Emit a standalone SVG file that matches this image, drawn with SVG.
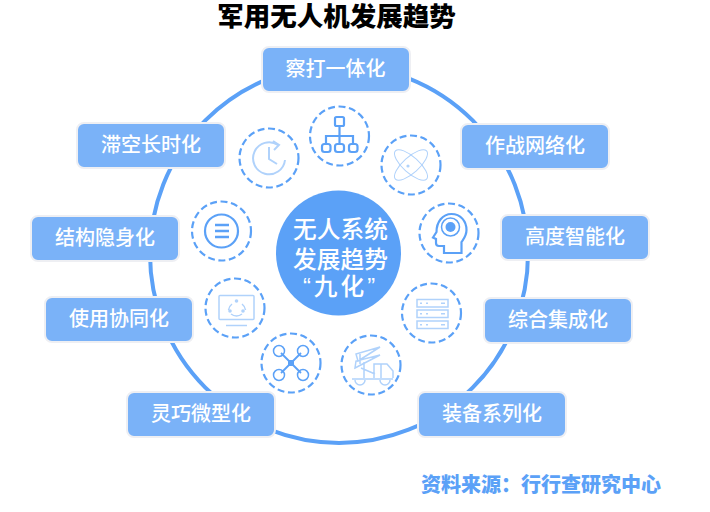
<svg xmlns="http://www.w3.org/2000/svg" width="710" height="512" viewBox="0 0 710 512">
<style>
text{font-family:"Noto Sans CJK SC","Liberation Sans",sans-serif}
.b rect{fill:#7ab2f8;stroke:#eeeff3;stroke-width:2}
.b text{fill:#fff;font-size:20px;font-weight:500;text-anchor:middle}
.d{fill:#fff;stroke:#5ba1f7;stroke-width:2.2;stroke-dasharray:7 3.6}
.s{fill:none;stroke:#5ba1f7;stroke-width:2.2}
.t{fill:none;stroke:#5ba1f7;stroke-width:1.5}
.l{fill:none;stroke:#b0d2fb;stroke-width:1.5}
.a{fill:none;stroke:#b0d2fb;stroke-width:1}
.c text{fill:#fff;font-size:23.700px;font-weight:500;text-anchor:middle;font-family:"Liberation Sans","Noto Sans CJK SC",sans-serif}
.h{font-family:"Liberation Sans","Noto Sans CJK SC",sans-serif}
</style>
<rect width="710" height="512" fill="#fff"/>
<text class="h" x="336.500" y="26" font-size="26.500" font-weight="900" text-anchor="middle" fill="#000">军用无人机发展趋势</text>
<g id="connectors"><circle cx="339" cy="254" r="189" fill="none" stroke="#5ba1f7" stroke-width="4"/></g>
<g id="n1" class="b"><rect x="262" y="47" width="148" height="45" rx="7"/><text x="335.500" y="76">察打一体化</text></g>
<g id="n2" class="b"><rect x="461" y="124" width="148" height="45" rx="7"/><text x="535" y="153">作战网络化</text></g>
<g id="n3" class="b"><rect x="501" y="215" width="148" height="45" rx="7"/><text x="575" y="244">高度智能化</text></g>
<g id="n4" class="b"><rect x="484" y="298" width="148" height="45" rx="7"/><text x="558" y="327">综合集成化</text></g>
<g id="n5" class="b"><rect x="418" y="392" width="148" height="45" rx="7"/><text x="492" y="421">装备系列化</text></g>
<g id="n6" class="b"><rect x="127" y="392" width="148" height="45" rx="7"/><text x="201" y="421">灵巧微型化</text></g>
<g id="n7" class="b"><rect x="45" y="297" width="148" height="45" rx="7"/><text x="119" y="326">使用协同化</text></g>
<g id="n8" class="b"><rect x="31" y="216" width="148" height="45" rx="7"/><text x="105" y="245">结构隐身化</text></g>
<g id="n9" class="b"><rect x="77" y="123" width="148" height="45" rx="7"/><text x="151" y="152">滞空长时化</text></g>
<g id="center" class="c"><circle cx="338.500" cy="253" r="62.500" fill="#5ba1f7"/><text x="340.500" y="238">无人系统</text><text x="340.500" y="268">发展趋势</text><text x="340.500" y="295" letter-spacing="3">“九化”</text></g>
<g id="i1"><circle class="d" cx="339.500" cy="136" r="29.500"/><path class="s" d="M339.500 127v17M326 144v-8h27v8"/><rect class="s" x="335" y="117" width="9" height="9" rx="1.500"/><rect class="s" x="322" y="144" width="8.500" height="8" rx="2.500"/><rect class="s" x="335" y="144" width="9" height="8" rx="2.500"/><rect class="s" x="349" y="144" width="8.500" height="8" rx="2.500"/></g>
<g id="i2"><circle class="d" cx="269" cy="158" r="29.500"/><path class="l" d="M278 145A16 16 0 1 0 285 160M273 141l6 4-5 5M269 147v12l8 5" style="stroke-width:2"/></g>
<g id="i3"><circle class="d" cx="411" cy="165" r="29.500"/><ellipse class="a" cx="411" cy="165" rx="21" ry="8" transform="rotate(42 411 165)"/><ellipse class="a" cx="411" cy="165" rx="21" ry="8" transform="rotate(-42 411 165)"/><circle cx="408" cy="166" r="1.600" fill="#b0d2fb"/></g>
<g id="i4"><circle class="d" cx="449" cy="233" r="29.500"/><path class="s" d="M444 253v-7h-5a3 3 0 0 1-3-3v-4l-3-1.500 3.500-5.500c0-10 6-18 15-18 9 0 15 7 15 16 0 6-3 9-5 12v11z"/><circle class="t" cx="450.500" cy="227" r="9"/><circle cx="450.500" cy="227" r="5" fill="#5ba1f7"/></g>
<g id="i5"><circle class="d" cx="431.500" cy="313" r="29.500"/><g class="l"><rect x="417" y="299.500" width="31" height="7.500"/><rect x="417" y="310" width="31" height="7.500"/><rect x="417" y="321" width="31" height="7.500"/><path stroke-dasharray="2 4" d="M420 303.300h12M420 313.800h12M420 324.800h12"/><path d="M441 303.300h4M441 313.800h4M441 324.800h4"/></g></g>
<g id="i6"><circle class="d" cx="371" cy="365" r="29.500"/><g class="l"><path d="M352 379h41M381 378v-14h-7v14M381 364h6l6 7v7M355 368l25-13-24 6zM358 361l22-14-24 7zM361 368l14 6M364 362v16M360 354v10"/><path d="M355 380a5 5 0 0 0 10 0M380 380a5 5 0 0 0 10 0"/></g></g>
<g id="i7"><circle class="d" cx="291" cy="363" r="29.500"/><path class="t" style="stroke-width:1.800" d="M281 353l20 20M301 353l-20 20"/><circle class="t" cx="279" cy="351" r="5.500"/><circle class="t" cx="303" cy="351" r="5.500"/><circle class="t" cx="279" cy="375" r="5.500"/><circle class="t" cx="303" cy="375" r="5.500"/><rect x="288" y="360" width="6" height="6" fill="#5ba1f7"/></g>
<g id="i8"><circle class="d" cx="235" cy="308" r="29.500"/><g class="l"><rect x="219" y="295.500" width="35" height="24" rx="1"/><path d="M226 325.500h21"/><path d="M232 304a9 9 0 0 0-3.500 6M242 304a9 9 0 0 1 3.500 6M231 314a9 9 0 0 0 11 0"/></g><circle cx="236.500" cy="301" r="1.800" fill="#b0d2fb"/><circle cx="230" cy="311" r="1.800" fill="#b0d2fb"/><circle cx="243" cy="311" r="1.800" fill="#b0d2fb"/></g>
<g id="i9"><circle class="d" cx="221.500" cy="231" r="29.500"/><circle class="s" cx="221.500" cy="231" r="16.500"/><path class="s" style="stroke-width:2.500" d="M215 225h14M215 231h14M215 237h14"/></g>
<text x="541" y="492" font-size="20" font-weight="900" text-anchor="middle" fill="#5ba1f7">资料来源：行行查研究中心</text>
</svg>
